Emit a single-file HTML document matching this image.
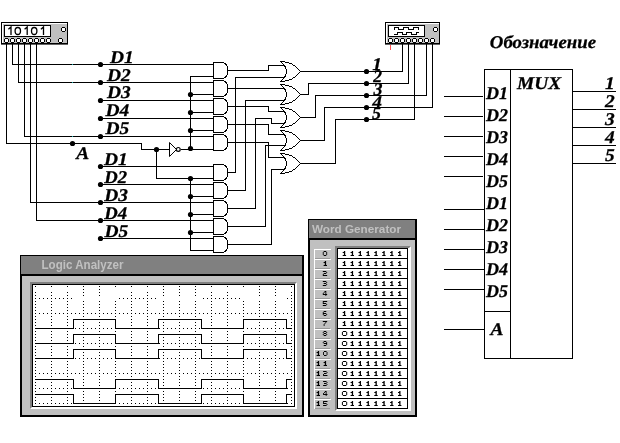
<!DOCTYPE html>
<html><head><meta charset="utf-8"><title>MUX</title>
<style>
html,body{margin:0;padding:0;background:#fff;}
body{width:620px;height:443px;overflow:hidden;font-family:"Liberation Sans",sans-serif;}
svg{display:block;will-change:transform;}
.bi{font-family:"Liberation Serif",serif;font-weight:bold;font-style:italic;text-rendering:geometricPrecision;fill:#000;stroke:#000;stroke-width:0.15px;}
.sb{font-family:"Liberation Sans",sans-serif;font-weight:bold;fill:#c0c0c0;}
</style></head><body>
<svg width="620" height="443" viewBox="0 0 620 443" shape-rendering="crispEdges">
<rect width="620" height="443" fill="#fff"/>
<path d="M6.5,44 L6.5,143.5 L141.5,143.5 L141.5,149.5 L169.5,149.5" fill="none" stroke="#000" stroke-width="1"/>
<path d="M12.5,44 L12.5,64.5 L213.5,64.5" fill="none" stroke="#000" stroke-width="1"/>
<path d="M18.5,44 L18.5,82.5 L213.5,82.5" fill="none" stroke="#000" stroke-width="1"/>
<path d="M24.5,44 L24.5,136.5 L213.5,136.5" fill="none" stroke="#000" stroke-width="1"/>
<path d="M30.5,44 L30.5,202.5 L213.5,202.5" fill="none" stroke="#000" stroke-width="1"/>
<path d="M36.5,44 L36.5,220.5 L213.5,220.5" fill="none" stroke="#000" stroke-width="1"/>
<path d="M100.5,100.5 L213.5,100.5" fill="none" stroke="#000" stroke-width="1"/>
<path d="M100.5,118.5 L213.5,118.5" fill="none" stroke="#000" stroke-width="1"/>
<path d="M100.5,166.5 L213.5,166.5" fill="none" stroke="#000" stroke-width="1"/>
<path d="M100.5,184.5 L213.5,184.5" fill="none" stroke="#000" stroke-width="1"/>
<path d="M100.5,238.5 L213.5,238.5" fill="none" stroke="#000" stroke-width="1"/>
<circle cx="100.5" cy="64.5" r="2.6" fill="#000" shape-rendering="auto"/>
<circle cx="100.5" cy="82.5" r="2.6" fill="#000" shape-rendering="auto"/>
<circle cx="100.5" cy="100.5" r="2.6" fill="#000" shape-rendering="auto"/>
<circle cx="100.5" cy="118.5" r="2.6" fill="#000" shape-rendering="auto"/>
<circle cx="100.5" cy="136.5" r="2.6" fill="#000" shape-rendering="auto"/>
<circle cx="100.5" cy="166.5" r="2.6" fill="#000" shape-rendering="auto"/>
<circle cx="100.5" cy="184.5" r="2.6" fill="#000" shape-rendering="auto"/>
<circle cx="100.5" cy="202.5" r="2.6" fill="#000" shape-rendering="auto"/>
<circle cx="100.5" cy="220.5" r="2.6" fill="#000" shape-rendering="auto"/>
<circle cx="100.5" cy="238.5" r="2.6" fill="#000" shape-rendering="auto"/>
<circle cx="72.5" cy="143.5" r="2.6" fill="#000" shape-rendering="auto"/>
<circle cx="156.5" cy="149.5" r="2.6" fill="#000" shape-rendering="auto"/>
<rect x="72" y="64" width="1" height="1" fill="#18a8a8"/>
<rect x="72" y="82" width="1" height="1" fill="#18a8a8"/>
<rect x="72" y="136" width="1" height="1" fill="#18a8a8"/>
<path d="M169.5,142.5 L169.5,156.5 L176.5,149.5 Z" fill="#fff" stroke="#000" stroke-width="1" shape-rendering="auto"/>
<circle cx="178.3" cy="149.4" r="1.9" fill="#fff" stroke="#000" stroke-width="1.2" shape-rendering="auto"/>
<path d="M180.5,149.5 L213.5,149.5" fill="none" stroke="#000" stroke-width="1"/>
<path d="M156.5,149.5 L156.5,178.5 L213.5,178.5" fill="none" stroke="#000" stroke-width="1"/>
<path d="M213.5,76.5 L190.5,76.5 L190.5,148.5" fill="none" stroke="#000" stroke-width="1"/>
<path d="M190.5,94.5 L213.5,94.5" fill="none" stroke="#000" stroke-width="1"/>
<circle cx="190.5" cy="94.5" r="2.6" fill="#000" shape-rendering="auto"/>
<path d="M190.5,112.5 L213.5,112.5" fill="none" stroke="#000" stroke-width="1"/>
<circle cx="190.5" cy="112.5" r="2.6" fill="#000" shape-rendering="auto"/>
<path d="M190.5,130.5 L213.5,130.5" fill="none" stroke="#000" stroke-width="1"/>
<circle cx="190.5" cy="130.5" r="2.6" fill="#000" shape-rendering="auto"/>
<circle cx="190.5" cy="148.5" r="2.6" fill="#000" shape-rendering="auto"/>
<path d="M190.5,178.5 L190.5,250.5 L213.5,250.5" fill="none" stroke="#000" stroke-width="1"/>
<circle cx="190.5" cy="178.5" r="2.6" fill="#000" shape-rendering="auto"/>
<path d="M190.5,196.5 L213.5,196.5" fill="none" stroke="#000" stroke-width="1"/>
<circle cx="190.5" cy="196.5" r="2.6" fill="#000" shape-rendering="auto"/>
<path d="M190.5,214.5 L213.5,214.5" fill="none" stroke="#000" stroke-width="1"/>
<circle cx="190.5" cy="214.5" r="2.6" fill="#000" shape-rendering="auto"/>
<path d="M190.5,232.5 L213.5,232.5" fill="none" stroke="#000" stroke-width="1"/>
<circle cx="190.5" cy="232.5" r="2.6" fill="#000" shape-rendering="auto"/>
<path d="M213.5,62.5 h8.5 a5.5,6 0 0 1 5.5,6 v4 a5.5,6 0 0 1 -5.5,6 h-8.5 z" fill="#fff" stroke="#000" stroke-width="1" shape-rendering="crispEdges"/>
<path d="M213.5,164.5 h8.5 a5.5,6 0 0 1 5.5,6 v4 a5.5,6 0 0 1 -5.5,6 h-8.5 z" fill="#fff" stroke="#000" stroke-width="1" shape-rendering="crispEdges"/>
<path d="M213.5,80.5 h8.5 a5.5,6 0 0 1 5.5,6 v4 a5.5,6 0 0 1 -5.5,6 h-8.5 z" fill="#fff" stroke="#000" stroke-width="1" shape-rendering="crispEdges"/>
<path d="M213.5,182.5 h8.5 a5.5,6 0 0 1 5.5,6 v4 a5.5,6 0 0 1 -5.5,6 h-8.5 z" fill="#fff" stroke="#000" stroke-width="1" shape-rendering="crispEdges"/>
<path d="M213.5,98.5 h8.5 a5.5,6 0 0 1 5.5,6 v4 a5.5,6 0 0 1 -5.5,6 h-8.5 z" fill="#fff" stroke="#000" stroke-width="1" shape-rendering="crispEdges"/>
<path d="M213.5,200.5 h8.5 a5.5,6 0 0 1 5.5,6 v4 a5.5,6 0 0 1 -5.5,6 h-8.5 z" fill="#fff" stroke="#000" stroke-width="1" shape-rendering="crispEdges"/>
<path d="M213.5,116.5 h8.5 a5.5,6 0 0 1 5.5,6 v4 a5.5,6 0 0 1 -5.5,6 h-8.5 z" fill="#fff" stroke="#000" stroke-width="1" shape-rendering="crispEdges"/>
<path d="M213.5,218.5 h8.5 a5.5,6 0 0 1 5.5,6 v4 a5.5,6 0 0 1 -5.5,6 h-8.5 z" fill="#fff" stroke="#000" stroke-width="1" shape-rendering="crispEdges"/>
<path d="M213.5,134.5 h8.5 a5.5,6 0 0 1 5.5,6 v4 a5.5,6 0 0 1 -5.5,6 h-8.5 z" fill="#fff" stroke="#000" stroke-width="1" shape-rendering="crispEdges"/>
<path d="M213.5,236.5 h8.5 a5.5,6 0 0 1 5.5,6 v4 a5.5,6 0 0 1 -5.5,6 h-8.5 z" fill="#fff" stroke="#000" stroke-width="1" shape-rendering="crispEdges"/>
<path d="M227.5,70.5 L268.5,70.5 L268.5,65.5 L284.5,65.5" fill="none" stroke="#000" stroke-width="1"/>
<path d="M227.5,88.5 L285.5,88.5" fill="none" stroke="#000" stroke-width="1"/>
<path d="M227.5,106.5 L268.5,106.5 L268.5,111.5 L284.5,111.5" fill="none" stroke="#000" stroke-width="1"/>
<path d="M227.5,124.5 L268.5,124.5 L268.5,134.5 L284.5,134.5" fill="none" stroke="#000" stroke-width="1"/>
<path d="M227.5,142.5 L268.5,142.5 L268.5,157.5 L284.5,157.5" fill="none" stroke="#000" stroke-width="1"/>
<path d="M227.5,172.5 L235.5,172.5 L235.5,77.5 L284.5,77.5" fill="none" stroke="#000" stroke-width="1"/>
<path d="M227.5,190.5 L245.5,190.5 L245.5,100.5 L284.5,100.5" fill="none" stroke="#000" stroke-width="1"/>
<path d="M227.5,208.5 L255.5,208.5 L255.5,118.5 L271.5,118.5 L271.5,123.5 L284.5,123.5" fill="none" stroke="#000" stroke-width="1"/>
<path d="M227.5,226.5 L265.5,226.5 L265.5,145.5 L284.5,145.5" fill="none" stroke="#000" stroke-width="1"/>
<path d="M227.5,244.5 L271.5,244.5 L271.5,169.5 L284.5,169.5" fill="none" stroke="#000" stroke-width="1"/>
<path d="M280.5,61.5 Q293,61.5 300.5,71.5 Q293,81.5 280.5,81.5 Q292.5,71.5 280.5,61.5 z" fill="#fff" stroke="#000" stroke-width="1" shape-rendering="crispEdges"/>
<path d="M280.5,84.5 Q293,84.5 300.5,94.5 Q293,104.5 280.5,104.5 Q292.5,94.5 280.5,84.5 z" fill="#fff" stroke="#000" stroke-width="1" shape-rendering="crispEdges"/>
<path d="M280.5,107.5 Q293,107.5 300.5,117.5 Q293,127.5 280.5,127.5 Q292.5,117.5 280.5,107.5 z" fill="#fff" stroke="#000" stroke-width="1" shape-rendering="crispEdges"/>
<path d="M280.5,130.5 Q293,130.5 300.5,140.5 Q293,150.5 280.5,150.5 Q292.5,140.5 280.5,130.5 z" fill="#fff" stroke="#000" stroke-width="1" shape-rendering="crispEdges"/>
<path d="M280.5,153.5 Q293,153.5 300.5,163.5 Q293,173.5 280.5,173.5 Q292.5,163.5 280.5,153.5 z" fill="#fff" stroke="#000" stroke-width="1" shape-rendering="crispEdges"/>
<path d="M300.5,71.5 L402.5,71.5 L402.5,44" fill="none" stroke="#000" stroke-width="1"/>
<path d="M300.5,94.5 L308.5,94.5 L308.5,83.5 L408.5,83.5 L408.5,44" fill="none" stroke="#000" stroke-width="1"/>
<path d="M300.5,117.5 L315.5,117.5 L315.5,95.5 L426.5,95.5 L426.5,44" fill="none" stroke="#000" stroke-width="1"/>
<path d="M300.5,140.5 L324.5,140.5 L324.5,107.5 L432.5,107.5 L432.5,44" fill="none" stroke="#000" stroke-width="1"/>
<path d="M300.5,163.5 L335.5,163.5 L335.5,119.5 L414.5,119.5 L414.5,44" fill="none" stroke="#000" stroke-width="1"/>
<circle cx="366.5" cy="71.5" r="2.6" fill="#000" shape-rendering="auto"/>
<circle cx="366.5" cy="83.5" r="2.6" fill="#000" shape-rendering="auto"/>
<circle cx="366.5" cy="95.5" r="2.6" fill="#000" shape-rendering="auto"/>
<circle cx="366.5" cy="107.5" r="2.6" fill="#000" shape-rendering="auto"/>
<circle cx="366.5" cy="119.5" r="2.6" fill="#000" shape-rendering="auto"/>
<rect x="484.5" y="69.5" width="88" height="289" fill="#fff" stroke="#000"/>
<path d="M510.5,69.5 L510.5,358.5" fill="none" stroke="#000" stroke-width="1"/>
<path d="M484.5,311.5 L510.5,311.5" fill="none" stroke="#000" stroke-width="1"/>
<path d="M444,96.5 L483,96.5" fill="none" stroke="#000" stroke-width="1"/>
<path d="M444,116.5 L483,116.5" fill="none" stroke="#000" stroke-width="1"/>
<path d="M444,136.5 L483,136.5" fill="none" stroke="#000" stroke-width="1"/>
<path d="M444,156.5 L483,156.5" fill="none" stroke="#000" stroke-width="1"/>
<path d="M444,176.5 L483,176.5" fill="none" stroke="#000" stroke-width="1"/>
<path d="M444,209.5 L484.5,209.5" fill="none" stroke="#000" stroke-width="1"/>
<path d="M444,229.5 L484.5,229.5" fill="none" stroke="#000" stroke-width="1"/>
<path d="M444,249.5 L484.5,249.5" fill="none" stroke="#000" stroke-width="1"/>
<path d="M444,269.5 L484.5,269.5" fill="none" stroke="#000" stroke-width="1"/>
<path d="M444,289.5 L484.5,289.5" fill="none" stroke="#000" stroke-width="1"/>
<path d="M444,329.5 L484.5,329.5" fill="none" stroke="#000" stroke-width="1"/>
<path d="M572.5,91.5 L616,91.5" fill="none" stroke="#000" stroke-width="1"/>
<path d="M572.5,109.5 L616,109.5" fill="none" stroke="#000" stroke-width="1"/>
<path d="M572.5,127.5 L616,127.5" fill="none" stroke="#000" stroke-width="1"/>
<path d="M572.5,145.5 L616,145.5" fill="none" stroke="#000" stroke-width="1"/>
<path d="M572.5,163.5 L616,163.5" fill="none" stroke="#000" stroke-width="1"/>
<rect x="1.5" y="22.5" width="66" height="21" fill="#c0c0c0" stroke="#000"/><path d="M2.5,42.5 V23.5 H66.5" fill="none" stroke="#fff"/><rect x="1" y="43" width="67" height="1.6" fill="#000" shape-rendering="auto"/><rect x="4.5" y="25.5" width="46" height="11" fill="#fff" stroke="#000"/><rect x="5.0" y="39.0" width="3" height="3" fill="#fff"/><path d="M5.0,38.0h3v1h-3z M5.0,42.0h3v1h-3z M4.0,39.0h1v3h-1z M8.0,39.0h1v3h-1z" fill="#000"/><rect x="11.0" y="39.0" width="3" height="3" fill="#fff"/><path d="M11.0,38.0h3v1h-3z M11.0,42.0h3v1h-3z M10.0,39.0h1v3h-1z M14.0,39.0h1v3h-1z" fill="#000"/><rect x="17.0" y="39.0" width="3" height="3" fill="#fff"/><path d="M17.0,38.0h3v1h-3z M17.0,42.0h3v1h-3z M16.0,39.0h1v3h-1z M20.0,39.0h1v3h-1z" fill="#000"/><rect x="23.0" y="39.0" width="3" height="3" fill="#fff"/><path d="M23.0,38.0h3v1h-3z M23.0,42.0h3v1h-3z M22.0,39.0h1v3h-1z M26.0,39.0h1v3h-1z" fill="#000"/><rect x="29.0" y="39.0" width="3" height="3" fill="#fff"/><path d="M29.0,38.0h3v1h-3z M29.0,42.0h3v1h-3z M28.0,39.0h1v3h-1z M32.0,39.0h1v3h-1z" fill="#000"/><rect x="35.0" y="39.0" width="3" height="3" fill="#fff"/><path d="M35.0,38.0h3v1h-3z M35.0,42.0h3v1h-3z M34.0,39.0h1v3h-1z M38.0,39.0h1v3h-1z" fill="#000"/><rect x="41.0" y="39.0" width="3" height="3" fill="#fff"/><path d="M41.0,38.0h3v1h-3z M41.0,42.0h3v1h-3z M40.0,39.0h1v3h-1z M44.0,39.0h1v3h-1z" fill="#000"/><rect x="47.0" y="39.0" width="3" height="3" fill="#fff"/><path d="M47.0,38.0h3v1h-3z M47.0,42.0h3v1h-3z M46.0,39.0h1v3h-1z M50.0,39.0h1v3h-1z" fill="#000"/><rect x="62.0" y="28.0" width="3" height="3" fill="#fff"/><path d="M62.0,27.0h3v1h-3z M62.0,31.0h3v1h-3z M61.0,28.0h1v3h-1z M65.0,28.0h1v3h-1z" fill="#000"/><rect x="59.0" y="39.0" width="3" height="3" fill="#fff"/><path d="M59.0,38.0h3v1h-3z M59.0,42.0h3v1h-3z M58.0,39.0h1v3h-1z M62.0,39.0h1v3h-1z" fill="#000"/><path d="M8.4,29.2 L11.0,27 V35M24.599999999999998,29.2 L27.2,27 V35M40.9,29.2 L43.5,27 V35" fill="none" stroke="#000" stroke-width="1.3" shape-rendering="auto"/><ellipse cx="17.8" cy="31" rx="2.7" ry="3.5" fill="none" stroke="#000" stroke-width="1.3" shape-rendering="auto"/><ellipse cx="34.2" cy="31" rx="2.7" ry="3.5" fill="none" stroke="#000" stroke-width="1.3" shape-rendering="auto"/>
<rect x="385.5" y="22.5" width="54" height="21" fill="#c0c0c0" stroke="#000"/><path d="M386.5,42.5 V23.5 H438.5" fill="none" stroke="#fff"/><rect x="385" y="43" width="55" height="1.6" fill="#000" shape-rendering="auto"/><rect x="388.5" y="25.5" width="36" height="11" fill="#fff" stroke="#000"/><rect x="389.0" y="39.0" width="3" height="3" fill="#fff"/><path d="M389.0,38.0h3v1h-3z M389.0,42.0h3v1h-3z M388.0,39.0h1v3h-1z M392.0,39.0h1v3h-1z" fill="#000"/><rect x="395.0" y="39.0" width="3" height="3" fill="#fff"/><path d="M395.0,38.0h3v1h-3z M395.0,42.0h3v1h-3z M394.0,39.0h1v3h-1z M398.0,39.0h1v3h-1z" fill="#000"/><rect x="401.0" y="39.0" width="3" height="3" fill="#fff"/><path d="M401.0,38.0h3v1h-3z M401.0,42.0h3v1h-3z M400.0,39.0h1v3h-1z M404.0,39.0h1v3h-1z" fill="#000"/><rect x="407.0" y="39.0" width="3" height="3" fill="#fff"/><path d="M407.0,38.0h3v1h-3z M407.0,42.0h3v1h-3z M406.0,39.0h1v3h-1z M410.0,39.0h1v3h-1z" fill="#000"/><rect x="413.0" y="39.0" width="3" height="3" fill="#fff"/><path d="M413.0,38.0h3v1h-3z M413.0,42.0h3v1h-3z M412.0,39.0h1v3h-1z M416.0,39.0h1v3h-1z" fill="#000"/><rect x="419.0" y="39.0" width="3" height="3" fill="#fff"/><path d="M419.0,38.0h3v1h-3z M419.0,42.0h3v1h-3z M418.0,39.0h1v3h-1z M422.0,39.0h1v3h-1z" fill="#000"/><rect x="425.0" y="39.0" width="3" height="3" fill="#fff"/><path d="M425.0,38.0h3v1h-3z M425.0,42.0h3v1h-3z M424.0,39.0h1v3h-1z M428.0,39.0h1v3h-1z" fill="#000"/><rect x="431.0" y="39.0" width="3" height="3" fill="#fff"/><path d="M431.0,38.0h3v1h-3z M431.0,42.0h3v1h-3z M430.0,39.0h1v3h-1z M434.0,39.0h1v3h-1z" fill="#000"/><rect x="434.0" y="28.0" width="3" height="3" fill="#fff"/><path d="M434.0,27.0h3v1h-3z M434.0,31.0h3v1h-3z M433.0,28.0h1v3h-1z M437.0,28.0h1v3h-1z" fill="#000"/><path d="M394.5,29.5 v-2 h4 v2 h5 v-2 h5 v2 h5 v-2 h5 v2" fill="none" stroke="#000"/><path d="M394,34.5 h3.5 v-2 h5 v2 h4 v-2 h5 v2 h5 v-2 h2" fill="none" stroke="#000"/><path d="M390.5,45 v5" stroke="#ff5050" fill="none"/>
<text transform="translate(110,63) scale(1.9440,1.8000)" class="bi" font-size="10.0" text-anchor="start">D1</text>
<text transform="translate(107,80.5) scale(1.9440,1.8000)" class="bi" font-size="10.0" text-anchor="start">D2</text>
<text transform="translate(107,98) scale(1.9440,1.8000)" class="bi" font-size="10.0" text-anchor="start">D3</text>
<text transform="translate(105.5,116) scale(1.9440,1.8000)" class="bi" font-size="10.0" text-anchor="start">D4</text>
<text transform="translate(105.5,133.5) scale(1.9440,1.8000)" class="bi" font-size="10.0" text-anchor="start">D5</text>
<text transform="translate(76.2,159) scale(1.9440,1.8000)" class="bi" font-size="10.0" text-anchor="start">A</text>
<text transform="translate(104,165) scale(1.9440,1.8000)" class="bi" font-size="10.0" text-anchor="start">D1</text>
<text transform="translate(104.3,183) scale(1.8720,1.8000)" class="bi" font-size="10.0" text-anchor="start">D2</text>
<text transform="translate(104.3,201) scale(1.9440,1.8000)" class="bi" font-size="10.0" text-anchor="start">D3</text>
<text transform="translate(104.3,219) scale(1.8720,1.8000)" class="bi" font-size="10.0" text-anchor="start">D4</text>
<text transform="translate(104.5,237) scale(1.9440,1.8000)" class="bi" font-size="10.0" text-anchor="start">D5</text>
<text transform="translate(372.3,69.5) scale(1.9440,1.8000)" class="bi" font-size="10.0" text-anchor="start">1</text>
<text transform="translate(373.3,82.3) scale(1.7640,1.8000)" class="bi" font-size="10.0" text-anchor="start">2</text>
<text transform="translate(373.5,94.8) scale(1.8000,1.8000)" class="bi" font-size="10.0" text-anchor="start">3</text>
<text transform="translate(372.2,107.5) scale(1.9440,1.8000)" class="bi" font-size="10.0" text-anchor="start">4</text>
<text transform="translate(372,118.8) scale(1.8000,1.8000)" class="bi" font-size="10.0" text-anchor="start">5</text>
<text transform="translate(489.8,47.5) scale(1.8810,1.8000)" class="bi" font-size="10.0" text-anchor="start">Обозначение</text>
<text transform="translate(517,89) scale(1.9440,1.8000)" class="bi" font-size="10.0" text-anchor="start">MUX</text>
<text transform="translate(486,98.7) scale(1.8000,1.8000)" class="bi" font-size="10.0" text-anchor="start">D1</text>
<text transform="translate(486,120.7) scale(1.8000,1.8000)" class="bi" font-size="10.0" text-anchor="start">D2</text>
<text transform="translate(486,142.7) scale(1.8000,1.8000)" class="bi" font-size="10.0" text-anchor="start">D3</text>
<text transform="translate(486,164.7) scale(1.8000,1.8000)" class="bi" font-size="10.0" text-anchor="start">D4</text>
<text transform="translate(486,186.7) scale(1.8000,1.8000)" class="bi" font-size="10.0" text-anchor="start">D5</text>
<text transform="translate(486,208.7) scale(1.8000,1.8000)" class="bi" font-size="10.0" text-anchor="start">D1</text>
<text transform="translate(486,230.7) scale(1.8000,1.8000)" class="bi" font-size="10.0" text-anchor="start">D2</text>
<text transform="translate(486,252.7) scale(1.8000,1.8000)" class="bi" font-size="10.0" text-anchor="start">D3</text>
<text transform="translate(486,274.7) scale(1.8000,1.8000)" class="bi" font-size="10.0" text-anchor="start">D4</text>
<text transform="translate(486,296.7) scale(1.8000,1.8000)" class="bi" font-size="10.0" text-anchor="start">D5</text>
<text transform="translate(490.5,335) scale(1.9440,1.8000)" class="bi" font-size="10.0" text-anchor="start">A</text>
<text transform="translate(605,88.5) scale(1.9440,1.8000)" class="bi" font-size="10.0" text-anchor="start">1</text>
<text transform="translate(605,106.5) scale(1.9440,1.8000)" class="bi" font-size="10.0" text-anchor="start">2</text>
<text transform="translate(605,125.0) scale(1.9440,1.8000)" class="bi" font-size="10.0" text-anchor="start">3</text>
<text transform="translate(605,143.0) scale(1.9440,1.8000)" class="bi" font-size="10.0" text-anchor="start">4</text>
<text transform="translate(605,161.0) scale(1.9440,1.8000)" class="bi" font-size="10.0" text-anchor="start">5</text>
<rect x="20" y="255" width="284" height="162" fill="#000"/>
<rect x="21" y="256" width="281" height="18" fill="#808080"/>
<rect x="22" y="276" width="280" height="139" fill="#c0c0c0"/>
<rect x="30" y="282" width="267" height="127" fill="#fff"/>
<path d="M30,282 H297 L295,284 H32 V407 L30,409 Z" fill="#808080" shape-rendering="auto"/>
<rect x="32" y="284" width="263" height="123" fill="#000"/>
<rect x="33" y="285" width="261" height="121" fill="#fff"/>
<text x="41.5" y="268.7" class="sb" font-size="12" textLength="82" lengthAdjust="spacingAndGlyphs">Logic Analyzer</text>
<path d="M35.5,286 V405" stroke="#000" stroke-dasharray="1 2" fill="none"/>
<path d="M51.5,286 V405" stroke="#000" stroke-dasharray="1 2" fill="none"/>
<path d="M67.5,286 V405" stroke="#000" stroke-dasharray="1 2" fill="none"/>
<path d="M83.5,286 V405" stroke="#000" stroke-dasharray="1 2" fill="none"/>
<path d="M99.5,286 V405" stroke="#000" stroke-dasharray="1 2" fill="none"/>
<path d="M115.5,286 V405" stroke="#000" stroke-dasharray="1 2" fill="none"/>
<path d="M131.5,286 V405" stroke="#000" stroke-dasharray="1 2" fill="none"/>
<path d="M147.5,286 V405" stroke="#000" stroke-dasharray="1 2" fill="none"/>
<path d="M163.5,286 V405" stroke="#000" stroke-dasharray="1 2" fill="none"/>
<path d="M179.5,286 V405" stroke="#000" stroke-dasharray="1 2" fill="none"/>
<path d="M195.5,286 V405" stroke="#000" stroke-dasharray="1 2" fill="none"/>
<path d="M211.5,286 V405" stroke="#000" stroke-dasharray="1 2" fill="none"/>
<path d="M227.5,286 V405" stroke="#000" stroke-dasharray="1 2" fill="none"/>
<path d="M243.5,286 V405" stroke="#000" stroke-dasharray="1 2" fill="none"/>
<path d="M259.5,286 V405" stroke="#000" stroke-dasharray="1 2" fill="none"/>
<path d="M275.5,286 V405" stroke="#000" stroke-dasharray="1 2" fill="none"/>
<path d="M291.5,286 V405" stroke="#000" stroke-dasharray="1 2" fill="none"/>
<path d="M35,298.5 H293" stroke="#000" stroke-dasharray="1 3" fill="none"/>
<path d="M35,313.5 H293" stroke="#000" stroke-dasharray="1 3" fill="none"/>
<path d="M35,328.5 H293" stroke="#000" stroke-dasharray="1 3" fill="none"/>
<path d="M35,343.5 H293" stroke="#000" stroke-dasharray="1 3" fill="none"/>
<path d="M35,358.5 H293" stroke="#000" stroke-dasharray="1 3" fill="none"/>
<path d="M35,373.5 H293" stroke="#000" stroke-dasharray="1 3" fill="none"/>
<path d="M35,388.5 H293" stroke="#000" stroke-dasharray="1 3" fill="none"/>
<path d="M35,403.5 H293" stroke="#000" stroke-dasharray="1 3" fill="none"/>
<rect x="35" y="289" width="39" height="1" fill="#fff"/>
<rect x="74" y="298" width="42" height="1" fill="#fff"/>
<rect x="116" y="289" width="43" height="1" fill="#fff"/>
<rect x="159" y="298" width="43" height="1" fill="#fff"/>
<rect x="202" y="289" width="42" height="1" fill="#fff"/>
<rect x="244" y="298" width="43" height="1" fill="#fff"/>
<rect x="287" y="289" width="6" height="1" fill="#fff"/>
<rect x="115" y="289" width="1" height="10" fill="#fff"/>
<rect x="243" y="289" width="1" height="10" fill="#fff"/>
<path d="M35,328.5 H73.5 V319.5 H115.5 V328.5 H158.5 V319.5 H201.5 V328.5 H243.5 V319.5 H286.5 V328.5 H292" stroke="#000" fill="none" stroke-linejoin="miter"/>
<path d="M35,343.5 H73.5 V334.5 H115.5 V343.5 H158.5 V334.5 H201.5 V343.5 H243.5 V334.5 H286.5 V343.5 H292" stroke="#000" fill="none" stroke-linejoin="miter"/>
<path d="M35,358.5 H73.5 V349.5 H115.5 V358.5 H158.5 V349.5 H201.5 V358.5 H243.5 V349.5 H286.5 V358.5 H292" stroke="#000" fill="none" stroke-linejoin="miter"/>
<path d="M35,379.5 H73.5 V388.5 H115.5 V379.5 H158.5 V388.5 H201.5 V379.5 H243.5 V388.5 H286.5 V379.5 H292" stroke="#000" fill="none" stroke-linejoin="miter"/>
<path d="M35,394.5 H73.5 V403.5 H115.5 V394.5 H158.5 V403.5 H201.5 V394.5 H243.5 V403.5 H286.5 V394.5 H292" stroke="#000" fill="none" stroke-linejoin="miter"/>
<rect x="308" y="219" width="109" height="198" fill="#000"/>
<rect x="309" y="220" width="106" height="18" fill="#808080"/>
<rect x="310" y="240" width="105" height="175" fill="#c0c0c0"/>
<text x="312" y="232.6" class="sb" font-size="11.5" textLength="89" lengthAdjust="spacingAndGlyphs">Word Generator</text>
<rect x="335" y="246" width="76" height="165" fill="#fff"/>
<path d="M335,246 H411 L409,248 H337 V409 L335,411 Z" fill="#808080" shape-rendering="auto"/>
<rect x="337" y="248" width="71" height="161" fill="#000"/>
<rect x="338" y="249" width="69" height="9" fill="#fff"/>
<rect x="314" y="249" width="17" height="10" fill="#fff"/>
<rect x="315" y="250" width="16" height="9" fill="#c0c0c0"/>
<rect x="315" y="258" width="15" height="1" fill="#999"/>
<rect x="338" y="259" width="69" height="9" fill="#fff"/>
<rect x="314" y="259" width="17" height="10" fill="#fff"/>
<rect x="315" y="260" width="16" height="9" fill="#c0c0c0"/>
<rect x="315" y="268" width="15" height="1" fill="#999"/>
<rect x="338" y="269" width="69" height="9" fill="#fff"/>
<rect x="314" y="269" width="17" height="10" fill="#fff"/>
<rect x="315" y="270" width="16" height="9" fill="#c0c0c0"/>
<rect x="315" y="278" width="15" height="1" fill="#999"/>
<rect x="338" y="279" width="69" height="9" fill="#fff"/>
<rect x="314" y="279" width="17" height="10" fill="#fff"/>
<rect x="315" y="280" width="16" height="9" fill="#c0c0c0"/>
<rect x="315" y="288" width="15" height="1" fill="#999"/>
<rect x="338" y="289" width="69" height="9" fill="#fff"/>
<rect x="314" y="289" width="17" height="10" fill="#fff"/>
<rect x="315" y="290" width="16" height="9" fill="#c0c0c0"/>
<rect x="315" y="298" width="15" height="1" fill="#999"/>
<rect x="338" y="299" width="69" height="9" fill="#fff"/>
<rect x="314" y="299" width="17" height="10" fill="#fff"/>
<rect x="315" y="300" width="16" height="9" fill="#c0c0c0"/>
<rect x="315" y="308" width="15" height="1" fill="#999"/>
<rect x="338" y="309" width="69" height="9" fill="#fff"/>
<rect x="314" y="309" width="17" height="10" fill="#fff"/>
<rect x="315" y="310" width="16" height="9" fill="#c0c0c0"/>
<rect x="315" y="318" width="15" height="1" fill="#999"/>
<rect x="338" y="319" width="69" height="9" fill="#fff"/>
<rect x="314" y="319" width="17" height="10" fill="#fff"/>
<rect x="315" y="320" width="16" height="9" fill="#c0c0c0"/>
<rect x="315" y="328" width="15" height="1" fill="#999"/>
<rect x="338" y="329" width="69" height="9" fill="#fff"/>
<rect x="314" y="329" width="17" height="10" fill="#fff"/>
<rect x="315" y="330" width="16" height="9" fill="#c0c0c0"/>
<rect x="315" y="338" width="15" height="1" fill="#999"/>
<rect x="338" y="339" width="69" height="9" fill="#fff"/>
<rect x="314" y="339" width="17" height="10" fill="#fff"/>
<rect x="315" y="340" width="16" height="9" fill="#c0c0c0"/>
<rect x="315" y="348" width="15" height="1" fill="#999"/>
<rect x="338" y="349" width="69" height="9" fill="#fff"/>
<rect x="314" y="349" width="17" height="10" fill="#fff"/>
<rect x="315" y="350" width="16" height="9" fill="#c0c0c0"/>
<rect x="315" y="358" width="15" height="1" fill="#999"/>
<rect x="338" y="359" width="69" height="9" fill="#fff"/>
<rect x="314" y="359" width="17" height="10" fill="#fff"/>
<rect x="315" y="360" width="16" height="9" fill="#c0c0c0"/>
<rect x="315" y="368" width="15" height="1" fill="#999"/>
<rect x="338" y="369" width="69" height="9" fill="#fff"/>
<rect x="314" y="369" width="17" height="10" fill="#fff"/>
<rect x="315" y="370" width="16" height="9" fill="#c0c0c0"/>
<rect x="315" y="378" width="15" height="1" fill="#999"/>
<rect x="338" y="379" width="69" height="9" fill="#fff"/>
<rect x="314" y="379" width="17" height="10" fill="#fff"/>
<rect x="315" y="380" width="16" height="9" fill="#c0c0c0"/>
<rect x="315" y="388" width="15" height="1" fill="#999"/>
<rect x="338" y="389" width="69" height="9" fill="#fff"/>
<rect x="314" y="389" width="17" height="10" fill="#fff"/>
<rect x="315" y="390" width="16" height="9" fill="#c0c0c0"/>
<rect x="315" y="398" width="15" height="1" fill="#999"/>
<rect x="338" y="399" width="69" height="9" fill="#fff"/>
<rect x="314" y="399" width="17" height="10" fill="#fff"/>
<rect x="315" y="400" width="16" height="9" fill="#c0c0c0"/>
<rect x="315" y="408" width="15" height="1" fill="#999"/>
<path d="M323.67,251.00H326.28V252.00H323.67zM322.80,252.00H323.67V253.00H322.80zM326.28,252.00H327.15V253.00H326.28zM322.80,253.00H323.67V254.00H322.80zM326.28,253.00H327.15V254.00H326.28zM322.80,254.00H323.67V255.00H322.80zM326.28,254.00H327.15V255.00H326.28zM323.67,255.00H326.28V256.00H323.67zM343.90,251.00H345.20V256.00H343.90zM342.70,252.00H343.90V253.00H342.70zM342.70,255.00H346.10V256.00H342.70zM351.80,251.00H353.10V256.00H351.80zM350.60,252.00H351.80V253.00H350.60zM350.60,255.00H354.00V256.00H350.60zM359.70,251.00H361.00V256.00H359.70zM358.50,252.00H359.70V253.00H358.50zM358.50,255.00H361.90V256.00H358.50zM367.60,251.00H368.90V256.00H367.60zM366.40,252.00H367.60V253.00H366.40zM366.40,255.00H369.80V256.00H366.40zM375.50,251.00H376.80V256.00H375.50zM374.30,252.00H375.50V253.00H374.30zM374.30,255.00H377.70V256.00H374.30zM383.40,251.00H384.70V256.00H383.40zM382.20,252.00H383.40V253.00H382.20zM382.20,255.00H385.60V256.00H382.20zM391.30,251.00H392.60V256.00H391.30zM390.10,252.00H391.30V253.00H390.10zM390.10,255.00H393.50V256.00H390.10zM399.20,251.00H400.50V256.00H399.20zM398.00,252.00H399.20V253.00H398.00zM398.00,255.00H401.40V256.00H398.00zM324.80,261.00H326.10V266.00H324.80zM323.60,262.00H324.80V263.00H323.60zM323.60,265.00H327.00V266.00H323.60zM343.90,261.00H345.20V266.00H343.90zM342.70,262.00H343.90V263.00H342.70zM342.70,265.00H346.10V266.00H342.70zM351.80,261.00H353.10V266.00H351.80zM350.60,262.00H351.80V263.00H350.60zM350.60,265.00H354.00V266.00H350.60zM359.70,261.00H361.00V266.00H359.70zM358.50,262.00H359.70V263.00H358.50zM358.50,265.00H361.90V266.00H358.50zM367.60,261.00H368.90V266.00H367.60zM366.40,262.00H367.60V263.00H366.40zM366.40,265.00H369.80V266.00H366.40zM375.50,261.00H376.80V266.00H375.50zM374.30,262.00H375.50V263.00H374.30zM374.30,265.00H377.70V266.00H374.30zM383.40,261.00H384.70V266.00H383.40zM382.20,262.00H383.40V263.00H382.20zM382.20,265.00H385.60V266.00H382.20zM391.30,261.00H392.60V266.00H391.30zM390.10,262.00H391.30V263.00H390.10zM390.10,265.00H393.50V266.00H390.10zM399.20,261.00H400.50V266.00H399.20zM398.00,262.00H399.20V263.00H398.00zM398.00,265.00H401.40V266.00H398.00zM322.80,271.00H326.28V272.00H322.80zM326.28,272.00H327.15V273.00H326.28zM323.67,273.00H326.28V274.00H323.67zM322.80,274.00H323.67V275.00H322.80zM322.80,275.00H327.15V276.00H322.80zM343.90,271.00H345.20V276.00H343.90zM342.70,272.00H343.90V273.00H342.70zM342.70,275.00H346.10V276.00H342.70zM351.80,271.00H353.10V276.00H351.80zM350.60,272.00H351.80V273.00H350.60zM350.60,275.00H354.00V276.00H350.60zM359.70,271.00H361.00V276.00H359.70zM358.50,272.00H359.70V273.00H358.50zM358.50,275.00H361.90V276.00H358.50zM367.60,271.00H368.90V276.00H367.60zM366.40,272.00H367.60V273.00H366.40zM366.40,275.00H369.80V276.00H366.40zM375.50,271.00H376.80V276.00H375.50zM374.30,272.00H375.50V273.00H374.30zM374.30,275.00H377.70V276.00H374.30zM383.40,271.00H384.70V276.00H383.40zM382.20,272.00H383.40V273.00H382.20zM382.20,275.00H385.60V276.00H382.20zM391.30,271.00H392.60V276.00H391.30zM390.10,272.00H391.30V273.00H390.10zM390.10,275.00H393.50V276.00H390.10zM399.20,271.00H400.50V276.00H399.20zM398.00,272.00H399.20V273.00H398.00zM398.00,275.00H401.40V276.00H398.00zM322.80,281.00H326.28V282.00H322.80zM326.28,282.00H327.15V283.00H326.28zM323.67,283.00H326.28V284.00H323.67zM326.28,284.00H327.15V285.00H326.28zM322.80,285.00H326.28V286.00H322.80zM343.90,281.00H345.20V286.00H343.90zM342.70,282.00H343.90V283.00H342.70zM342.70,285.00H346.10V286.00H342.70zM351.80,281.00H353.10V286.00H351.80zM350.60,282.00H351.80V283.00H350.60zM350.60,285.00H354.00V286.00H350.60zM359.70,281.00H361.00V286.00H359.70zM358.50,282.00H359.70V283.00H358.50zM358.50,285.00H361.90V286.00H358.50zM367.60,281.00H368.90V286.00H367.60zM366.40,282.00H367.60V283.00H366.40zM366.40,285.00H369.80V286.00H366.40zM375.50,281.00H376.80V286.00H375.50zM374.30,282.00H375.50V283.00H374.30zM374.30,285.00H377.70V286.00H374.30zM383.40,281.00H384.70V286.00H383.40zM382.20,282.00H383.40V283.00H382.20zM382.20,285.00H385.60V286.00H382.20zM391.30,281.00H392.60V286.00H391.30zM390.10,282.00H391.30V283.00H390.10zM390.10,285.00H393.50V286.00H390.10zM399.20,281.00H400.50V286.00H399.20zM398.00,282.00H399.20V283.00H398.00zM398.00,285.00H401.40V286.00H398.00zM324.54,291.00H326.28V292.00H324.54zM323.67,292.00H324.54V293.00H323.67zM325.41,292.00H326.28V293.00H325.41zM322.80,293.00H323.67V294.00H322.80zM325.41,293.00H326.28V294.00H325.41zM322.80,294.00H327.15V295.00H322.80zM325.41,295.00H326.28V296.00H325.41zM343.90,291.00H345.20V296.00H343.90zM342.70,292.00H343.90V293.00H342.70zM342.70,295.00H346.10V296.00H342.70zM351.80,291.00H353.10V296.00H351.80zM350.60,292.00H351.80V293.00H350.60zM350.60,295.00H354.00V296.00H350.60zM359.70,291.00H361.00V296.00H359.70zM358.50,292.00H359.70V293.00H358.50zM358.50,295.00H361.90V296.00H358.50zM367.60,291.00H368.90V296.00H367.60zM366.40,292.00H367.60V293.00H366.40zM366.40,295.00H369.80V296.00H366.40zM375.50,291.00H376.80V296.00H375.50zM374.30,292.00H375.50V293.00H374.30zM374.30,295.00H377.70V296.00H374.30zM383.40,291.00H384.70V296.00H383.40zM382.20,292.00H383.40V293.00H382.20zM382.20,295.00H385.60V296.00H382.20zM391.30,291.00H392.60V296.00H391.30zM390.10,292.00H391.30V293.00H390.10zM390.10,295.00H393.50V296.00H390.10zM399.20,291.00H400.50V296.00H399.20zM398.00,292.00H399.20V293.00H398.00zM398.00,295.00H401.40V296.00H398.00zM322.80,301.00H327.15V302.00H322.80zM322.80,302.00H323.67V303.00H322.80zM322.80,303.00H326.28V304.00H322.80zM326.28,304.00H327.15V305.00H326.28zM322.80,305.00H326.28V306.00H322.80zM343.90,301.00H345.20V306.00H343.90zM342.70,302.00H343.90V303.00H342.70zM342.70,305.00H346.10V306.00H342.70zM351.80,301.00H353.10V306.00H351.80zM350.60,302.00H351.80V303.00H350.60zM350.60,305.00H354.00V306.00H350.60zM359.70,301.00H361.00V306.00H359.70zM358.50,302.00H359.70V303.00H358.50zM358.50,305.00H361.90V306.00H358.50zM367.60,301.00H368.90V306.00H367.60zM366.40,302.00H367.60V303.00H366.40zM366.40,305.00H369.80V306.00H366.40zM375.50,301.00H376.80V306.00H375.50zM374.30,302.00H375.50V303.00H374.30zM374.30,305.00H377.70V306.00H374.30zM383.40,301.00H384.70V306.00H383.40zM382.20,302.00H383.40V303.00H382.20zM382.20,305.00H385.60V306.00H382.20zM391.30,301.00H392.60V306.00H391.30zM390.10,302.00H391.30V303.00H390.10zM390.10,305.00H393.50V306.00H390.10zM399.20,301.00H400.50V306.00H399.20zM398.00,302.00H399.20V303.00H398.00zM398.00,305.00H401.40V306.00H398.00zM323.67,311.00H326.28V312.00H323.67zM322.80,312.00H323.67V313.00H322.80zM322.80,313.00H326.28V314.00H322.80zM322.80,314.00H323.67V315.00H322.80zM326.28,314.00H327.15V315.00H326.28zM323.67,315.00H326.28V316.00H323.67zM343.90,311.00H345.20V316.00H343.90zM342.70,312.00H343.90V313.00H342.70zM342.70,315.00H346.10V316.00H342.70zM351.80,311.00H353.10V316.00H351.80zM350.60,312.00H351.80V313.00H350.60zM350.60,315.00H354.00V316.00H350.60zM359.70,311.00H361.00V316.00H359.70zM358.50,312.00H359.70V313.00H358.50zM358.50,315.00H361.90V316.00H358.50zM367.60,311.00H368.90V316.00H367.60zM366.40,312.00H367.60V313.00H366.40zM366.40,315.00H369.80V316.00H366.40zM375.50,311.00H376.80V316.00H375.50zM374.30,312.00H375.50V313.00H374.30zM374.30,315.00H377.70V316.00H374.30zM383.40,311.00H384.70V316.00H383.40zM382.20,312.00H383.40V313.00H382.20zM382.20,315.00H385.60V316.00H382.20zM391.30,311.00H392.60V316.00H391.30zM390.10,312.00H391.30V313.00H390.10zM390.10,315.00H393.50V316.00H390.10zM399.20,311.00H400.50V316.00H399.20zM398.00,312.00H399.20V313.00H398.00zM398.00,315.00H401.40V316.00H398.00zM322.80,321.00H327.15V322.00H322.80zM325.41,322.00H326.28V323.00H325.41zM324.54,323.00H325.41V324.00H324.54zM323.67,324.00H324.54V325.00H323.67zM323.67,325.00H324.54V326.00H323.67zM343.90,321.00H345.20V326.00H343.90zM342.70,322.00H343.90V323.00H342.70zM342.70,325.00H346.10V326.00H342.70zM351.80,321.00H353.10V326.00H351.80zM350.60,322.00H351.80V323.00H350.60zM350.60,325.00H354.00V326.00H350.60zM359.70,321.00H361.00V326.00H359.70zM358.50,322.00H359.70V323.00H358.50zM358.50,325.00H361.90V326.00H358.50zM367.60,321.00H368.90V326.00H367.60zM366.40,322.00H367.60V323.00H366.40zM366.40,325.00H369.80V326.00H366.40zM375.50,321.00H376.80V326.00H375.50zM374.30,322.00H375.50V323.00H374.30zM374.30,325.00H377.70V326.00H374.30zM383.40,321.00H384.70V326.00H383.40zM382.20,322.00H383.40V323.00H382.20zM382.20,325.00H385.60V326.00H382.20zM391.30,321.00H392.60V326.00H391.30zM390.10,322.00H391.30V323.00H390.10zM390.10,325.00H393.50V326.00H390.10zM399.20,321.00H400.50V326.00H399.20zM398.00,322.00H399.20V323.00H398.00zM398.00,325.00H401.40V326.00H398.00zM323.67,331.00H326.28V332.00H323.67zM322.80,332.00H323.67V333.00H322.80zM326.28,332.00H327.15V333.00H326.28zM323.67,333.00H326.28V334.00H323.67zM322.80,334.00H323.67V335.00H322.80zM326.28,334.00H327.15V335.00H326.28zM323.67,335.00H326.28V336.00H323.67zM342.80,331.00H346.30V332.00H342.80zM342.80,335.00H346.30V336.00H342.80zM341.90,332.00H342.90V335.00H341.90zM346.20,332.00H347.20V335.00H346.20zM351.80,331.00H353.10V336.00H351.80zM350.60,332.00H351.80V333.00H350.60zM350.60,335.00H354.00V336.00H350.60zM359.70,331.00H361.00V336.00H359.70zM358.50,332.00H359.70V333.00H358.50zM358.50,335.00H361.90V336.00H358.50zM367.60,331.00H368.90V336.00H367.60zM366.40,332.00H367.60V333.00H366.40zM366.40,335.00H369.80V336.00H366.40zM375.50,331.00H376.80V336.00H375.50zM374.30,332.00H375.50V333.00H374.30zM374.30,335.00H377.70V336.00H374.30zM383.40,331.00H384.70V336.00H383.40zM382.20,332.00H383.40V333.00H382.20zM382.20,335.00H385.60V336.00H382.20zM391.30,331.00H392.60V336.00H391.30zM390.10,332.00H391.30V333.00H390.10zM390.10,335.00H393.50V336.00H390.10zM399.20,331.00H400.50V336.00H399.20zM398.00,332.00H399.20V333.00H398.00zM398.00,335.00H401.40V336.00H398.00zM323.67,341.00H326.28V342.00H323.67zM322.80,342.00H323.67V343.00H322.80zM326.28,342.00H327.15V343.00H326.28zM323.67,343.00H327.15V344.00H323.67zM326.28,344.00H327.15V345.00H326.28zM323.67,345.00H326.28V346.00H323.67zM342.80,341.00H346.30V342.00H342.80zM342.80,345.00H346.30V346.00H342.80zM341.90,342.00H342.90V345.00H341.90zM346.20,342.00H347.20V345.00H346.20zM351.80,341.00H353.10V346.00H351.80zM350.60,342.00H351.80V343.00H350.60zM350.60,345.00H354.00V346.00H350.60zM359.70,341.00H361.00V346.00H359.70zM358.50,342.00H359.70V343.00H358.50zM358.50,345.00H361.90V346.00H358.50zM367.60,341.00H368.90V346.00H367.60zM366.40,342.00H367.60V343.00H366.40zM366.40,345.00H369.80V346.00H366.40zM375.50,341.00H376.80V346.00H375.50zM374.30,342.00H375.50V343.00H374.30zM374.30,345.00H377.70V346.00H374.30zM383.40,341.00H384.70V346.00H383.40zM382.20,342.00H383.40V343.00H382.20zM382.20,345.00H385.60V346.00H382.20zM391.30,341.00H392.60V346.00H391.30zM390.10,342.00H391.30V343.00H390.10zM390.10,345.00H393.50V346.00H390.10zM399.20,341.00H400.50V346.00H399.20zM398.00,342.00H399.20V343.00H398.00zM398.00,345.00H401.40V346.00H398.00zM317.80,351.00H319.10V356.00H317.80zM316.60,352.00H317.80V353.00H316.60zM316.60,355.00H320.00V356.00H316.60zM323.97,351.00H326.58V352.00H323.97zM323.10,352.00H323.97V353.00H323.10zM326.58,352.00H327.45V353.00H326.58zM323.10,353.00H323.97V354.00H323.10zM326.58,353.00H327.45V354.00H326.58zM323.10,354.00H323.97V355.00H323.10zM326.58,354.00H327.45V355.00H326.58zM323.97,355.00H326.58V356.00H323.97zM342.80,351.00H346.30V352.00H342.80zM342.80,355.00H346.30V356.00H342.80zM341.90,352.00H342.90V355.00H341.90zM346.20,352.00H347.20V355.00H346.20zM351.80,351.00H353.10V356.00H351.80zM350.60,352.00H351.80V353.00H350.60zM350.60,355.00H354.00V356.00H350.60zM359.70,351.00H361.00V356.00H359.70zM358.50,352.00H359.70V353.00H358.50zM358.50,355.00H361.90V356.00H358.50zM367.60,351.00H368.90V356.00H367.60zM366.40,352.00H367.60V353.00H366.40zM366.40,355.00H369.80V356.00H366.40zM375.50,351.00H376.80V356.00H375.50zM374.30,352.00H375.50V353.00H374.30zM374.30,355.00H377.70V356.00H374.30zM383.40,351.00H384.70V356.00H383.40zM382.20,352.00H383.40V353.00H382.20zM382.20,355.00H385.60V356.00H382.20zM391.30,351.00H392.60V356.00H391.30zM390.10,352.00H391.30V353.00H390.10zM390.10,355.00H393.50V356.00H390.10zM399.20,351.00H400.50V356.00H399.20zM398.00,352.00H399.20V353.00H398.00zM398.00,355.00H401.40V356.00H398.00zM317.80,361.00H319.10V366.00H317.80zM316.60,362.00H317.80V363.00H316.60zM316.60,365.00H320.00V366.00H316.60zM324.80,361.00H326.10V366.00H324.80zM323.60,362.00H324.80V363.00H323.60zM323.60,365.00H327.00V366.00H323.60zM342.80,361.00H346.30V362.00H342.80zM342.80,365.00H346.30V366.00H342.80zM341.90,362.00H342.90V365.00H341.90zM346.20,362.00H347.20V365.00H346.20zM351.80,361.00H353.10V366.00H351.80zM350.60,362.00H351.80V363.00H350.60zM350.60,365.00H354.00V366.00H350.60zM359.70,361.00H361.00V366.00H359.70zM358.50,362.00H359.70V363.00H358.50zM358.50,365.00H361.90V366.00H358.50zM367.60,361.00H368.90V366.00H367.60zM366.40,362.00H367.60V363.00H366.40zM366.40,365.00H369.80V366.00H366.40zM375.50,361.00H376.80V366.00H375.50zM374.30,362.00H375.50V363.00H374.30zM374.30,365.00H377.70V366.00H374.30zM383.40,361.00H384.70V366.00H383.40zM382.20,362.00H383.40V363.00H382.20zM382.20,365.00H385.60V366.00H382.20zM391.30,361.00H392.60V366.00H391.30zM390.10,362.00H391.30V363.00H390.10zM390.10,365.00H393.50V366.00H390.10zM399.20,361.00H400.50V366.00H399.20zM398.00,362.00H399.20V363.00H398.00zM398.00,365.00H401.40V366.00H398.00zM317.80,371.00H319.10V376.00H317.80zM316.60,372.00H317.80V373.00H316.60zM316.60,375.00H320.00V376.00H316.60zM323.10,371.00H326.58V372.00H323.10zM326.58,372.00H327.45V373.00H326.58zM323.97,373.00H326.58V374.00H323.97zM323.10,374.00H323.97V375.00H323.10zM323.10,375.00H327.45V376.00H323.10zM342.80,371.00H346.30V372.00H342.80zM342.80,375.00H346.30V376.00H342.80zM341.90,372.00H342.90V375.00H341.90zM346.20,372.00H347.20V375.00H346.20zM351.80,371.00H353.10V376.00H351.80zM350.60,372.00H351.80V373.00H350.60zM350.60,375.00H354.00V376.00H350.60zM359.70,371.00H361.00V376.00H359.70zM358.50,372.00H359.70V373.00H358.50zM358.50,375.00H361.90V376.00H358.50zM367.60,371.00H368.90V376.00H367.60zM366.40,372.00H367.60V373.00H366.40zM366.40,375.00H369.80V376.00H366.40zM375.50,371.00H376.80V376.00H375.50zM374.30,372.00H375.50V373.00H374.30zM374.30,375.00H377.70V376.00H374.30zM383.40,371.00H384.70V376.00H383.40zM382.20,372.00H383.40V373.00H382.20zM382.20,375.00H385.60V376.00H382.20zM391.30,371.00H392.60V376.00H391.30zM390.10,372.00H391.30V373.00H390.10zM390.10,375.00H393.50V376.00H390.10zM399.20,371.00H400.50V376.00H399.20zM398.00,372.00H399.20V373.00H398.00zM398.00,375.00H401.40V376.00H398.00zM317.80,381.00H319.10V386.00H317.80zM316.60,382.00H317.80V383.00H316.60zM316.60,385.00H320.00V386.00H316.60zM323.10,381.00H326.58V382.00H323.10zM326.58,382.00H327.45V383.00H326.58zM323.97,383.00H326.58V384.00H323.97zM326.58,384.00H327.45V385.00H326.58zM323.10,385.00H326.58V386.00H323.10zM342.80,381.00H346.30V382.00H342.80zM342.80,385.00H346.30V386.00H342.80zM341.90,382.00H342.90V385.00H341.90zM346.20,382.00H347.20V385.00H346.20zM351.80,381.00H353.10V386.00H351.80zM350.60,382.00H351.80V383.00H350.60zM350.60,385.00H354.00V386.00H350.60zM359.70,381.00H361.00V386.00H359.70zM358.50,382.00H359.70V383.00H358.50zM358.50,385.00H361.90V386.00H358.50zM367.60,381.00H368.90V386.00H367.60zM366.40,382.00H367.60V383.00H366.40zM366.40,385.00H369.80V386.00H366.40zM375.50,381.00H376.80V386.00H375.50zM374.30,382.00H375.50V383.00H374.30zM374.30,385.00H377.70V386.00H374.30zM383.40,381.00H384.70V386.00H383.40zM382.20,382.00H383.40V383.00H382.20zM382.20,385.00H385.60V386.00H382.20zM391.30,381.00H392.60V386.00H391.30zM390.10,382.00H391.30V383.00H390.10zM390.10,385.00H393.50V386.00H390.10zM399.20,381.00H400.50V386.00H399.20zM398.00,382.00H399.20V383.00H398.00zM398.00,385.00H401.40V386.00H398.00zM317.80,391.00H319.10V396.00H317.80zM316.60,392.00H317.80V393.00H316.60zM316.60,395.00H320.00V396.00H316.60zM324.84,391.00H326.58V392.00H324.84zM323.97,392.00H324.84V393.00H323.97zM325.71,392.00H326.58V393.00H325.71zM323.10,393.00H323.97V394.00H323.10zM325.71,393.00H326.58V394.00H325.71zM323.10,394.00H327.45V395.00H323.10zM325.71,395.00H326.58V396.00H325.71zM342.80,391.00H346.30V392.00H342.80zM342.80,395.00H346.30V396.00H342.80zM341.90,392.00H342.90V395.00H341.90zM346.20,392.00H347.20V395.00H346.20zM351.80,391.00H353.10V396.00H351.80zM350.60,392.00H351.80V393.00H350.60zM350.60,395.00H354.00V396.00H350.60zM359.70,391.00H361.00V396.00H359.70zM358.50,392.00H359.70V393.00H358.50zM358.50,395.00H361.90V396.00H358.50zM367.60,391.00H368.90V396.00H367.60zM366.40,392.00H367.60V393.00H366.40zM366.40,395.00H369.80V396.00H366.40zM375.50,391.00H376.80V396.00H375.50zM374.30,392.00H375.50V393.00H374.30zM374.30,395.00H377.70V396.00H374.30zM383.40,391.00H384.70V396.00H383.40zM382.20,392.00H383.40V393.00H382.20zM382.20,395.00H385.60V396.00H382.20zM391.30,391.00H392.60V396.00H391.30zM390.10,392.00H391.30V393.00H390.10zM390.10,395.00H393.50V396.00H390.10zM399.20,391.00H400.50V396.00H399.20zM398.00,392.00H399.20V393.00H398.00zM398.00,395.00H401.40V396.00H398.00zM317.80,401.00H319.10V406.00H317.80zM316.60,402.00H317.80V403.00H316.60zM316.60,405.00H320.00V406.00H316.60zM323.10,401.00H327.45V402.00H323.10zM323.10,402.00H323.97V403.00H323.10zM323.10,403.00H326.58V404.00H323.10zM326.58,404.00H327.45V405.00H326.58zM323.10,405.00H326.58V406.00H323.10zM342.80,401.00H346.30V402.00H342.80zM342.80,405.00H346.30V406.00H342.80zM341.90,402.00H342.90V405.00H341.90zM346.20,402.00H347.20V405.00H346.20zM351.80,401.00H353.10V406.00H351.80zM350.60,402.00H351.80V403.00H350.60zM350.60,405.00H354.00V406.00H350.60zM359.70,401.00H361.00V406.00H359.70zM358.50,402.00H359.70V403.00H358.50zM358.50,405.00H361.90V406.00H358.50zM367.60,401.00H368.90V406.00H367.60zM366.40,402.00H367.60V403.00H366.40zM366.40,405.00H369.80V406.00H366.40zM375.50,401.00H376.80V406.00H375.50zM374.30,402.00H375.50V403.00H374.30zM374.30,405.00H377.70V406.00H374.30zM383.40,401.00H384.70V406.00H383.40zM382.20,402.00H383.40V403.00H382.20zM382.20,405.00H385.60V406.00H382.20zM391.30,401.00H392.60V406.00H391.30zM390.10,402.00H391.30V403.00H390.10zM390.10,405.00H393.50V406.00H390.10zM399.20,401.00H400.50V406.00H399.20zM398.00,402.00H399.20V403.00H398.00zM398.00,405.00H401.40V406.00H398.00z" fill="#000" shape-rendering="auto"/>
</svg>
</body></html>
